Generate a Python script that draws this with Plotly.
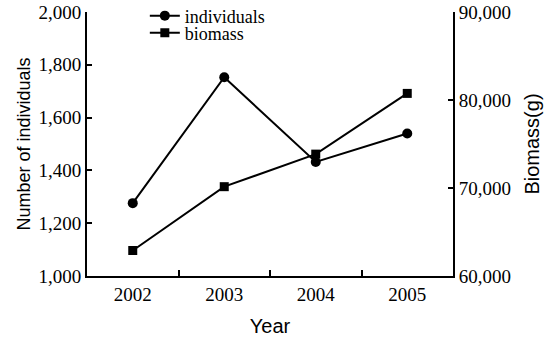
import plotly.graph_objects as go

years = ["2002", "2003", "2004", "2005"]
individuals = [1276, 1753, 1432, 1540]
biomass = [62900, 70150, 73850, 80750]

serif = "Liberation Serif, Times New Roman, serif"
sans = "Liberation Sans, Arial, sans-serif"

fig = go.Figure()
fig.add_trace(go.Scatter(
    x=years, y=individuals, name="individuals", mode="lines+markers",
    line=dict(color="black", width=2),
    marker=dict(symbol="circle", size=10, color="black"),
    legend="legend",
))
fig.add_trace(go.Scatter(
    x=years, y=biomass, name="biomass", mode="lines+markers", yaxis="y2",
    line=dict(color="black", width=2),
    marker=dict(symbol="square", size=9, color="black"),
    legend="legend2",
))

leg_common = dict(xanchor="left", yanchor="middle",
                  font=dict(family=serif, size=18, color="black"),
                  bgcolor="rgba(0,0,0,0)", itemwidth=30)

fig.update_layout(
    width=550, height=337,
    margin=dict(l=87, r=97, t=12, b=61, autoexpand=False),
    plot_bgcolor="white", paper_bgcolor="white",
    showlegend=True,
    legend=dict(x=0.158, y=0.985, **leg_common),
    legend2=dict(x=0.158, y=0.92, **leg_common),
    xaxis=dict(
        type="category", range=[-0.5, 3.5],
        showline=True, linecolor="black", linewidth=2,
        ticks="inside", tickson="boundaries", ticklen=6, tickwidth=2, tickcolor="black",
        showgrid=False, zeroline=False, ticklabeloverflow="allow",
        tickfont=dict(family=serif, size=19, color="black"),
        title=dict(text="Year", font=dict(family=sans, size=20, color="black")),
    ),
    yaxis=dict(
        range=[1000, 2000], dtick=200, tickformat=",",
        showline=True, linecolor="black", linewidth=2,
        ticks="inside", ticklen=5, tickwidth=2, tickcolor="black",
        showgrid=False, zeroline=False, ticklabeloverflow="allow",
        tickfont=dict(family=serif, size=19, color="black"),
        title=dict(text="Number of individuals", font=dict(family=sans, size=18, color="black"),
                   standoff=3),
    ),
    yaxis2=dict(
        overlaying="y", side="right",
        range=[60000, 90000], dtick=10000, tickformat=",",
        showline=True, linecolor="black", linewidth=2,
        ticks="inside", ticklen=5, tickwidth=2, tickcolor="black",
        showgrid=False, zeroline=False, ticklabeloverflow="allow",
        tickfont=dict(family=serif, size=19, color="black"),
        title=dict(text="Biomass(g)", font=dict(family=sans, size=20, color="black")),
    ),
)

fig.write_html("out.html", config={"displayModeBar": False},
               post_script="document.body.style.margin='0';")
